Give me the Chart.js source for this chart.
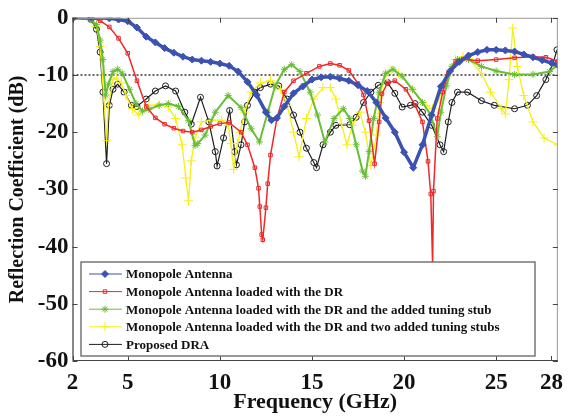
<!DOCTYPE html>
<html>
<head>
<meta charset="utf-8">
<script src="https://cdn.jsdelivr.net/npm/chart.js@4.4.1/dist/chart.umd.min.js"></script>
<style>
  body { margin: 0; background: #fff; }
  #wrap { width: 571px; height: 416px; position: relative; }
</style>
</head>
<body>
<div id="wrap"><canvas id="chart"></canvas></div>
<script>
// tick labels
var xTickValues = [2, 5, 10, 15, 20, 25, 28];
var yTickValues = [0, -10, -20, -30, -40, -50, -60];

var seriesNames = [
    'Monopole Antenna',
    'Monopole Antenna loaded with the DR',
    'Monopole Antenna loaded with the DR and the added tuning stub',
    'Monopole Antenna loaded with the DR and two added tuning stubs',
    'Proposed DRA'
];

// Monopole Antenna
var freqMono = [2, 3, 4, 4.5, 5, 5.5, 6, 6.5, 7, 7.5, 8, 8.5, 9, 9.5, 10, 10.5, 11, 11.5, 12, 12.5, 12.8, 13.1, 13.5, 14, 14.5, 15, 15.5, 16, 16.5, 17, 17.5, 18, 18.5, 19, 19.5, 20, 20.5, 21, 21.5, 22, 22.5, 23, 23.5, 24, 24.5, 25, 25.5, 26, 26.5, 27, 27.5, 28, 28.35];
var s11Mono = [0, 0, -0.1, -0.3, -0.6, -1.7, -3.3, -4.3, -5.3, -6.1, -6.8, -7.3, -7.5, -7.7, -8.0, -8.4, -9.4, -11.2, -13.5, -16.5, -17.9, -17.5, -15.5, -13.2, -12.0, -10.8, -10.4, -10.3, -10.6, -11.0, -11.8, -12.8, -14.8, -17.5, -20.0, -23.5, -26.2, -22.2, -17.0, -12.0, -9.3, -7.7, -6.6, -6.0, -5.6, -5.6, -5.7, -5.9, -6.4, -6.9, -7.4, -7.9, -8.3];

// loaded with the DR
var freqDR = [2, 3, 3.5, 4, 4.5, 5, 5.5, 6, 6.5, 7, 7.5, 8, 8.5, 9, 9.5, 10, 10.5, 11.15, 11.5, 11.9, 12.1, 12.17, 12.27, 12.33, 12.5, 12.6, 12.75, 13.1, 13.5, 14, 14.7, 15.4, 16, 16.5, 17, 17.5, 17.8, 18.1, 18.4, 18.65, 18.8, 19.1, 19.5, 20.1, 20.6, 21, 21.3, 21.45, 21.55, 21.6, 21.8, 22.1, 22.4, 22.8, 23.2, 24, 25, 26, 27, 27.7, 28.35];
var s11DR = [0, 0, -0.5, -1.6, -3.6, -6.2, -11.0, -15.5, -17.5, -18.6, -19.3, -19.8, -20.0, -19.6, -19.0, -18.5, -18.3, -20.0, -22.2, -26.2, -29.8, -33.0, -37.9, -38.8, -33.2, -29.0, -24.0, -17.6, -13.0, -11.0, -9.7, -8.5, -8.0, -8.3, -9.2, -11.5, -13.5, -18.0, -25.5, -18.2, -13.3, -11.4, -11.0, -12.5, -15.3, -18.2, -25.1, -30.8, -43.0, -30.3, -17.6, -13.0, -9.7, -7.6, -7.2, -7.5, -7.3, -7.0, -6.8, -6.9, -7.6];

// loaded with the DR and one tuning stub
var freqStub1 = [2, 3, 3.3, 3.5, 3.65, 3.8, 3.95, 4.2, 4.45, 4.7, 5.1, 5.45, 5.8, 6.15, 6.7, 7.2, 7.75, 8.3, 8.65, 8.8, 9.2, 9.75, 10.45, 11.15, 11.7, 12.15, 12.6, 13, 13.5, 13.9, 14.35, 14.9, 15.3, 15.7, 16.2, 16.7, 17.05, 17.4, 17.75, 17.9, 18.1, 18.35, 18.65, 19, 19.4, 19.9, 20.45, 21, 21.45, 21.8, 22, 22.3, 22.6, 22.9, 23.5, 24.2, 25, 26, 27, 27.9, 28.35];
var s11Stub1 = [0, -0.3, -1.2, -3.9, -7.3, -13.5, -11.6, -9.4, -9.0, -9.7, -12.5, -15.0, -16.3, -16.0, -15.3, -15.0, -15.5, -18.0, -22.3, -22.0, -20.5, -16.5, -13.6, -15.7, -19.4, -21.7, -16.5, -11.9, -9.0, -8.2, -9.4, -13.0, -17.0, -21.7, -17.6, -15.9, -17.6, -22.2, -26.8, -27.7, -23.4, -17.6, -13.0, -9.7, -9.0, -10.2, -12.5, -14.8, -17.0, -20.8, -16.5, -11.9, -8.5, -7.3, -7.3, -8.5, -9.3, -9.9, -9.9, -9.4, -8.2];

// loaded with the DR and two tuning stubs
var freqStub2 = [2, 3, 3.3, 3.5, 3.7, 3.85, 3.95, 4.2, 4.4, 4.65, 4.9, 5.25, 5.6, 6.15, 6.7, 7.2, 7.6, 7.95, 8.15, 8.3, 8.45, 8.65, 9.0, 9.55, 10.1, 10.45, 10.6, 10.75, 10.95, 11.1, 11.35, 11.7, 12.2, 12.75, 13.3, 13.65, 14.0, 14.3, 14.7, 15.1, 15.6, 16.0, 16.3, 16.6, 16.9, 17.2, 17.6, 17.9, 18.2, 18.5, 18.65, 18.9, 19.3, 19.7, 20.45, 21.2, 21.55, 21.9, 22.35, 22.8, 23.2, 23.5, 24.2, 24.7, 25.3, 25.5, 25.7, 25.9, 26.15, 26.5, 27, 27.6, 28.35];
var s11Stub2 = [0, -0.2, -1.5, -5.0, -14.0, -21.5, -15.3, -10.8, -10.5, -11.4, -13.6, -15.9, -17.0, -15.3, -15.2, -15.6, -17.6, -22.2, -28.0, -32.0, -25.0, -21.0, -18.2, -17.9, -17.9, -18.8, -22.0, -26.5, -22.0, -20.0, -16.5, -13.0, -11.4, -11.0, -12.5, -15.3, -20.0, -24.3, -17.6, -14.2, -12.2, -12.2, -14.2, -18.5, -22.2, -18.8, -16.5, -20.0, -25.8, -20.5, -14.8, -10.8, -9.1, -9.7, -12.5, -15.3, -15.9, -14.2, -10.2, -7.3, -6.8, -7.1, -9.7, -13.0, -15.9, -16.8, -10.8, -1.8, -8.5, -13.6, -18.2, -21.0, -22.2];

// Proposed DRA
var freqDRA = [2, 3, 3.3, 3.5, 3.65, 3.85, 4.0, 4.2, 4.45, 4.8, 5.2, 5.5, 6.0, 6.5, 7.05, 7.6, 8.1, 8.45, 8.95, 9.4, 9.75, 9.85, 10.2, 10.53, 10.8, 10.9, 11.15, 11.35, 11.5, 11.9, 12.2, 12.75, 13.2, 13.65, 14.0, 14.35, 14.7, 15.1, 15.25, 15.6, 16.0, 16.3, 17.05, 17.4, 17.8, 18.2, 18.6, 19.1, 19.5, 19.9, 20.35, 20.6, 21.0, 21.5, 21.95, 22.15, 22.4, 22.6, 22.9, 23.45, 24.2, 24.9, 26.0, 26.7, 27.2, 27.7, 28.1, 28.3];
var s11DRA = [0, -0.3, -2.0, -6.0, -13.0, -25.5, -15.3, -12.5, -11.6, -13.0, -15.3, -15.5, -14.2, -12.8, -11.9, -12.8, -16.5, -18.6, -13.9, -18.2, -23.4, -25.9, -21.0, -16.2, -23.4, -25.7, -22.2, -18.2, -15.3, -13.0, -12.2, -11.6, -11.9, -14.2, -17.0, -20.0, -22.8, -25.3, -26.2, -22.2, -20.0, -18.8, -18.7, -17.4, -14.8, -13.0, -11.8, -11.3, -13.2, -15.6, -15.3, -15.0, -16.5, -18.8, -22.2, -23.4, -18.2, -14.8, -13.0, -13.0, -14.5, -15.3, -15.9, -15.3, -13.6, -10.8, -7.9, -5.6];

var refLevel = -10;
var xMin = 2, xMax = 28.35;

var serif = '"Liberation Serif", "Times New Roman", serif';

function pts(freq, vals) {
    return freq.map(function (f, i) { return {x: f, y: vals[i]}; });
}

function series(i, freq, vals, color, style, radius, fill, width) {
    return {
        label: seriesNames[i],
        data: pts(freq, vals),
        borderColor: color,
        backgroundColor: fill ? color : 'rgba(0,0,0,0)',
        borderWidth: width,
        pointStyle: style,
        pointRadius: radius,
        pointBorderColor: color,
        pointBackgroundColor: fill ? color : 'rgba(0,0,0,0)',
        pointBorderWidth: 1,
        tension: 0
    };
}

// inward ticks + box round the plot area
var frame = {
    id: 'frame',
    afterDatasetsDraw(chart) {
        var ctx = chart.ctx, a = chart.chartArea;
        var xs = chart.scales.x, ys = chart.scales.y;
        ctx.save();
        ctx.lineWidth = 1;
        ctx.strokeStyle = '#999';
        ctx.strokeRect(a.left + 0.5, a.top + 0.5, a.right - a.left - 1, a.bottom - a.top - 1);
        ctx.strokeStyle = '#444';
        ctx.beginPath();
        ctx.moveTo(a.left + 0.5, a.top); ctx.lineTo(a.left + 0.5, a.bottom - 0.5);
        ctx.lineTo(a.right, a.bottom - 0.5);
        xTickValues.forEach(function (v) {
            var px = Math.round(xs.getPixelForValue(v)) + 0.5;
            ctx.moveTo(px, a.bottom); ctx.lineTo(px, a.bottom - 5);
            ctx.moveTo(px, a.top); ctx.lineTo(px, a.top + 5);
        });
        yTickValues.forEach(function (v) {
            var py = Math.round(ys.getPixelForValue(v)) + 0.5;
            ctx.moveTo(a.left, py); ctx.lineTo(a.left + 5, py);
            ctx.moveTo(a.right, py); ctx.lineTo(a.right - 5, py);
        });
        ctx.stroke();
        ctx.restore();
    }
};

// legend box inside the plot, lower left
var boxLegend = {
    id: 'boxLegend',
    afterDatasetsDraw(chart) {
        var ctx = chart.ctx;
        var x0 = 81, y0 = 262, w = 454, h = 94;
        ctx.save();
        ctx.fillStyle = '#fff';
        ctx.fillRect(x0, y0, w, h);
        ctx.strokeStyle = '#777';
        ctx.lineWidth = 1.5;
        ctx.strokeRect(x0, y0, w, h);
        ctx.font = 'bold 13px ' + serif;
        ctx.textBaseline = 'middle';
        var rows = chart.data.datasets.filter(function (d) { return d.label; });
        rows.forEach(function (d, i) {
            var y = y0 + 12 + i * 17.6;
            ctx.strokeStyle = d.borderColor;
            ctx.lineWidth = 1;
            ctx.beginPath();
            ctx.moveTo(89, y); ctx.lineTo(122, y);
            ctx.stroke();
            ctx.fillStyle = d.pointBackgroundColor;
            Chart.helpers.drawPoint(ctx, {pointStyle: d.pointStyle, radius: d.pointRadius, borderWidth: 1, rotation: 0}, 105, y);
            ctx.fillStyle = '#111';
            ctx.fillText(d.label, 126, y + 1);
        });
        ctx.restore();
    }
};

new Chart(document.getElementById('chart'), {
    type: 'line',
    data: {
        datasets: [
            series(0, freqMono, s11Mono, 'rgb(60,82,178)', 'rectRot', 3.5, true, 3.5),
            series(1, freqDR, s11DR, 'rgb(238,40,40)', 'rect', 2.5, false, 1.5),
            series(2, freqStub1, s11Stub1, 'rgb(104,190,52)', 'star', 3.5, false, 2),
            series(3, freqStub2, s11Stub2, 'rgb(245,240,20)', 'cross', 4.5, false, 1.3),
            series(4, freqDRA, s11DRA, 'rgb(30,30,30)', 'circle', 3, false, 1.2),
            {
                label: '',
                data: [{x: xMin, y: refLevel}, {x: xMax, y: refLevel}],
                borderColor: '#333',
                borderWidth: 1.5,
                borderDash: [2, 2],
                pointRadius: 0
            }
        ]
    },
    options: {
        responsive: true,
        maintainAspectRatio: false,
        animation: false,
        layout: {padding: {top: 10, right: 7, left: 0, bottom: 0}},
        plugins: {legend: {display: false}, tooltip: {enabled: false}},
        scales: {
            x: {
                type: 'linear',
                min: xMin,
                max: xMax,
                afterBuildTicks(scale) {
                    scale.ticks = xTickValues.map(function (v) { return {value: v}; });
                },
                afterFit(scale) { scale.height = 55; },
                grid: {display: false, drawTicks: false},
                border: {display: false},
                ticks: {
                    padding: 8,
                    maxRotation: 0,
                    autoSkip: false,
                    color: '#111',
                    font: {family: serif, size: 23, weight: 'bold'}
                },
                title: {
                    display: true,
                    text: 'Frequency (GHz)',
                    color: '#111',
                    padding: {top: 0, bottom: 0},
                    font: {family: serif, size: 22, weight: 'bold'}
                }
            },
            y: {
                min: -60,
                max: 0,
                afterBuildTicks(scale) {
                    scale.ticks = yTickValues.map(function (v) { return {value: v}; });
                },
                afterFit(scale) { scale.width = 72.5; },
                grid: {display: false, drawTicks: false},
                border: {display: false},
                ticks: {
                    padding: 4,
                    color: '#111',
                    font: {family: serif, size: 23, weight: 'bold'}
                },
                title: {
                    display: true,
                    text: 'Reflection Coefficient (dB)',
                    color: '#111',
                    padding: {top: 6, bottom: 0},
                    font: {family: serif, size: 20, weight: 'bold'}
                }
            }
        }
    },
    plugins: [frame, boxLegend]
});
</script>
</body>
</html>
